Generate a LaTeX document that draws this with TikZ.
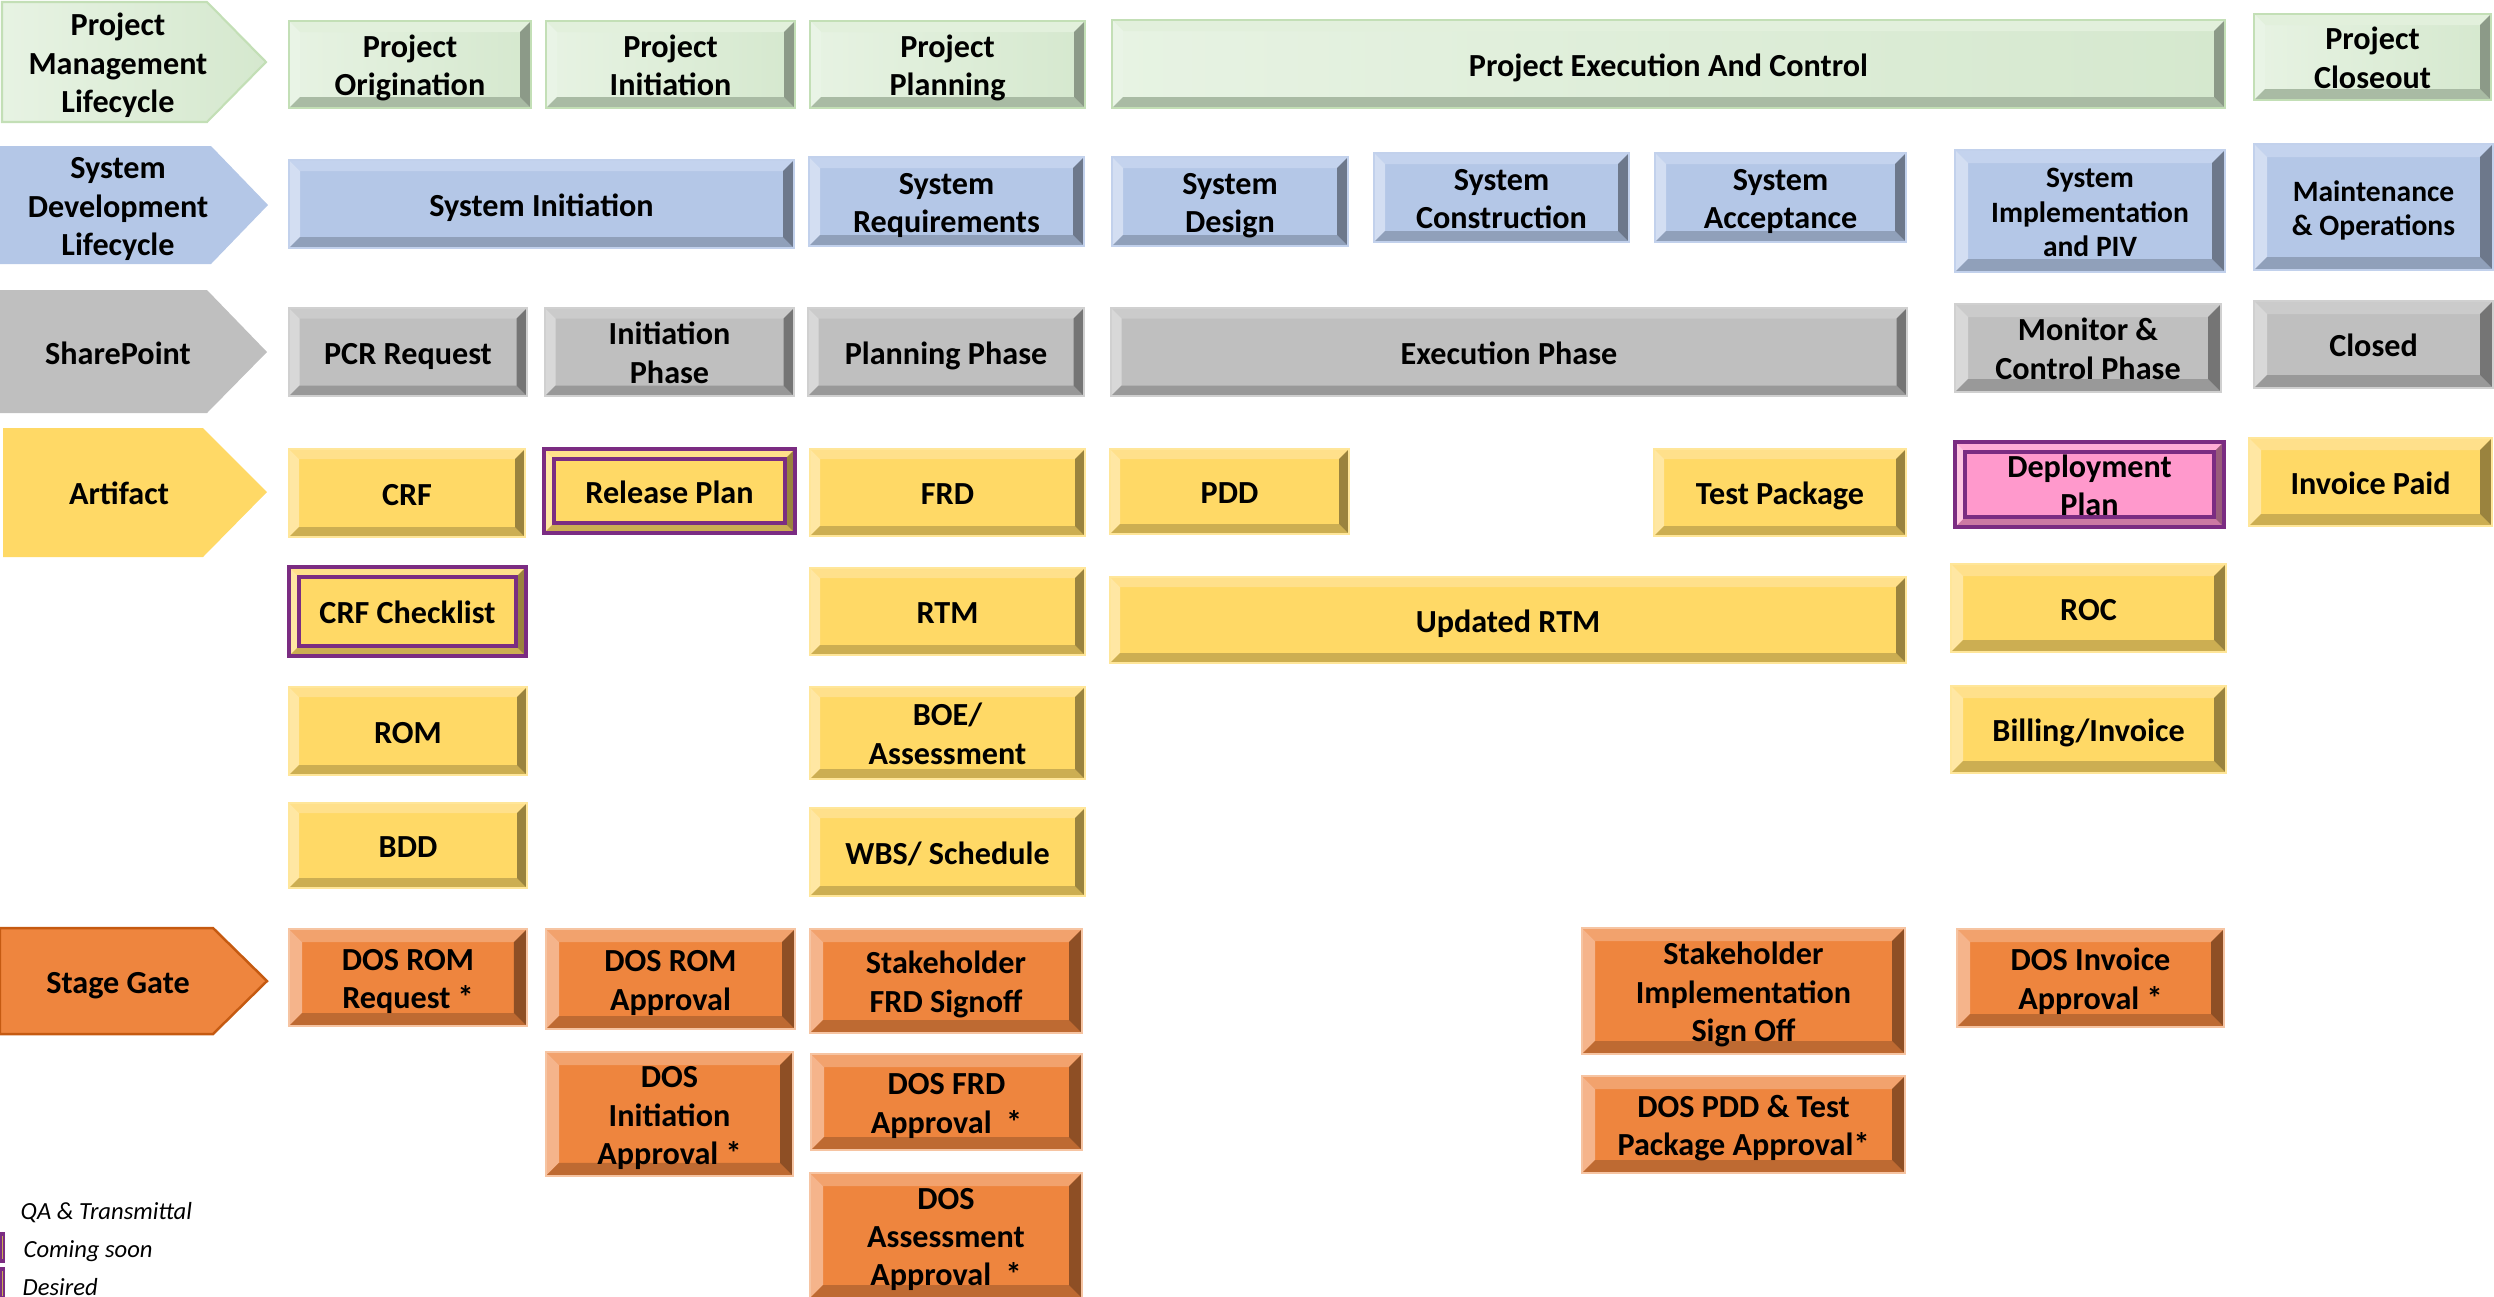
\documentclass[tikz,border=0pt]{standalone}
\usepackage{fontspec}
\setmainfont{Carlito}
\usetikzlibrary{calc}
% green
\definecolor{cGb}{HTML}{D5E8CE}\definecolor{cGl}{HTML}{E7F3E3}\definecolor{cGt}{HTML}{E2F0DC}
\definecolor{cGle}{HTML}{E9F4E6}\definecolor{cGbo}{HTML}{A9BBA4}\definecolor{cGr}{HTML}{8C9A88}
\definecolor{cGline}{HTML}{C3DFB6}
% blue
\definecolor{cBb}{HTML}{B4C7E7}\definecolor{cBt}{HTML}{C4D3EE}\definecolor{cBle}{HTML}{D3DEF2}
\definecolor{cBbo}{HTML}{90A0BA}\definecolor{cBr}{HTML}{6D788B}\definecolor{cBline}{HTML}{C2D1EC}
% gray
\definecolor{cKb}{HTML}{BFBFBF}\definecolor{cKt}{HTML}{CBCBCB}\definecolor{cKle}{HTML}{D8D8D8}
\definecolor{cKbo}{HTML}{999999}\definecolor{cKr}{HTML}{757575}\definecolor{cKline}{HTML}{D0D0D0}
% yellow
\definecolor{cYb}{HTML}{FFD966}\definecolor{cYt}{HTML}{FFE08B}\definecolor{cYle}{HTML}{FFE7A3}
\definecolor{cYbo}{HTML}{CCAE52}\definecolor{cYr}{HTML}{9A833E}\definecolor{cYline}{HTML}{FFE699}
% orange
\definecolor{cOb}{HTML}{EE853E}\definecolor{cOt}{HTML}{F2A26D}\definecolor{cOle}{HTML}{F5B48B}
\definecolor{cObo}{HTML}{BE6A32}\definecolor{cOr}{HTML}{8E4F25}\definecolor{cOline}{HTML}{F6C4A2}
\definecolor{cOedge}{HTML}{C55A11}
% pink
\definecolor{cPb}{HTML}{FF99CC}\definecolor{cPt}{HTML}{FFADD6}\definecolor{cPle}{HTML}{FFC6E2}
\definecolor{cPbo}{HTML}{CC7AA3}\definecolor{cPr}{HTML}{995C7A}
\definecolor{cPurp}{HTML}{7B2C82}

\newcommand\boxfont{\bfseries\fontsize{9.15}{10.9}\selectfont}
\newcommand\smallboxfont{\bfseries\fontsize{8.4}{9.8}\selectfont}
\newcommand\legfont{\itshape\fontsize{7}{8}\selectfont}
\newcommand\tb[1]{\raisebox{0pt}[\dimexpr\height+2.5pt\relax][\depth]{\begin{tabular}{@{}c@{}}#1\end{tabular}}}
\def\bvw{0.11cm}

\newcommand\bevpic[5]{%
\fill[#1] (path picture bounding box.north west) -- (path picture bounding box.north east) -- ([xshift=-#5,yshift=-#5]path picture bounding box.north east) -- ([xshift=#5,yshift=-#5]path picture bounding box.north west) -- cycle;
\fill[#2] (path picture bounding box.north west) -- ([xshift=#5,yshift=-#5]path picture bounding box.north west) -- ([xshift=#5,yshift=#5]path picture bounding box.south west) -- (path picture bounding box.south west) -- cycle;
\fill[#3] (path picture bounding box.south west) -- ([xshift=#5,yshift=#5]path picture bounding box.south west) -- ([xshift=-#5,yshift=#5]path picture bounding box.south east) -- (path picture bounding box.south east) -- cycle;
\fill[#4] (path picture bounding box.north east) -- ([xshift=-#5,yshift=-#5]path picture bounding box.north east) -- ([xshift=-#5,yshift=#5]path picture bounding box.south east) -- (path picture bounding box.south east) -- cycle;
}
\newcommand\bevpicP[5]{\bevpic{#1}{#2}{#3}{#4}{#5}%
\draw[cPurp,line width=1pt] ([xshift=#5,yshift=-#5]path picture bounding box.north west) rectangle ([xshift=-#5,yshift=#5]path picture bounding box.south east);}

\tikzset{
 bw/.code={\def\bvw{#1}},
 base/.style={rectangle, inner sep=0pt, outer sep=0pt, align=center, text=black, font=\boxfont, line width=0.6pt},
 gbox/.style={base, bw=0.11cm, left color=cGl, right color=cGb, draw=cGline, path picture={\bevpic{cGt}{cGle}{cGbo}{cGr}{\bvw}}},
 bbox/.style={base, bw=0.11cm, fill=cBb, draw=cBline, path picture={\bevpic{cBt}{cBle}{cBbo}{cBr}{\bvw}}},
 kbox/.style={base, bw=0.105cm, fill=cKb, draw=cKline, path picture={\bevpic{cKt}{cKle}{cKbo}{cKr}{\bvw}}},
 ybox/.style={base, bw=0.10cm, fill=cYb, draw=cYline, path picture={\bevpic{cYt}{cYle}{cYbo}{cYr}{\bvw}}},
 ypbox/.style={base, bw=0.10cm, fill=cYb, draw=cPurp, line width=1.1pt, path picture={\bevpicP{cYt}{cYle}{cYbo}{cYr}{\bvw}}},
 pkbox/.style={base, bw=0.10cm, fill=cPb, draw=cPurp, line width=1.1pt, path picture={\bevpicP{cPt}{cPle}{cPbo}{cPr}{\bvw}}},
 obox/.style={base, bw=0.13cm, fill=cOb, draw=cOline, path picture={\bevpic{cOt}{cOle}{cObo}{cOr}{\bvw}}},
 arrlab/.style={align=center, text=black, font=\boxfont, inner sep=0pt},
 leg/.style={font=\legfont, text=black, inner sep=0pt, anchor=base west},
}
\newcommand\bx[7]{\node[#1, minimum width={(#5-#3)*0.01cm}, minimum height={(#6-#4)*0.01cm}] (#2) at ({(#3+#5)/2},{(#4+#6)/2}) {\tb{#7}};}

\begin{document}
\begin{tikzpicture}[x=0.01cm, y=-0.01cm]
\useasboundingbox (0,0) rectangle (2494,1296);
\clip (0,0) rectangle (2494,1296);

% ---- row headers (pentagon arrows)
\shade[left color=cGl, right color=cGb, draw=cGline, line width=0.6pt]
  (2,2) -- (207,2) -- (266,62) -- (207,122) -- (2,122) -- cycle;
\node[arrlab] (hpm) at (118,62) {\tb{Project\\Management\\Lifecycle}};
\fill[cBb] (0,146) -- (211,146) -- (268,205) -- (211,264) -- (0,264) -- cycle;
\node[arrlab] (hsd) at (118,205) {\tb{System\\Development\\Lifecycle}};
\fill[cKb] (0,290) -- (207,290) -- (267,352) -- (207,413) -- (0,413) -- cycle;
\node[arrlab] (hsp) at (118,352) {\tb{SharePoint}};
\fill[cYb] (3,428) -- (203,428) -- (267,492) -- (203,557) -- (3,557) -- cycle;
\node[arrlab] (har) at (119,492) {\tb{Artifact}};
\filldraw[fill=cOb, draw=cOedge, line width=0.7pt] (0,928) -- (213,928) -- (267,981) -- (213,1034) -- (0,1034) -- cycle;
\node[arrlab] (hsg) at (118,981) {\tb{Stage Gate}};

% ---- Project management lifecycle
\bx{gbox}{po}{289}{21}{531}{108}{Project\\Origination}
\bx{gbox}{pi}{546}{21}{795}{108}{Project\\Initiation}
\bx{gbox}{pp}{810}{21}{1085}{108}{Project\\Planning}
\bx{gbox}{pec}{1112}{20}{2225}{108}{Project Execution And Control}
\bx{gbox}{pcl}{2254}{14}{2491}{100}{Project\\Closeout}

% ---- SDLC
\bx{bbox}{si}{289}{160}{794}{248}{System Initiation}
\bx{bbox}{sr}{809}{157}{1084}{246}{System\\Requirements}
\bx{bbox}{sd}{1112}{157}{1348}{246}{System\\Design}
\bx{bbox}{sc}{1374}{153}{1629}{242}{System\\Construction}
\bx{bbox}{sa}{1655}{153}{1906}{242}{System\\Acceptance}
\bx{bbox,bw=0.13cm,font=\smallboxfont}{sip}{1955}{150}{2225}{272}{System\\Implementation\\and PIV}
\bx{bbox,bw=0.13cm,font=\smallboxfont}{mo}{2254}{144}{2493}{270}{Maintenance\\\& Operations}

% ---- SharePoint
\bx{kbox}{pcr}{289}{308}{527}{396}{PCR Request}
\bx{kbox}{ip}{545}{308}{794}{396}{Initiation\\Phase}
\bx{kbox}{plp}{808}{308}{1084}{396}{Planning Phase}
\bx{kbox}{ep}{1111}{308}{1907}{396}{Execution Phase}
\bx{kbox,bw=0.13cm}{mc}{1955}{304}{2221}{392}{Monitor \&\\Control Phase}
\bx{kbox,bw=0.13cm}{cl}{2254}{301}{2493}{388}{Closed}

% ---- Artifacts
\bx{ybox}{crf}{289}{449}{525}{537}{CRF}
\bx{ypbox}{rp}{544}{449}{795}{533}{Release Plan}
\bx{ybox}{frd}{810}{449}{1085}{536}{FRD}
\bx{ybox}{pdd}{1110}{449}{1349}{534}{PDD}
\bx{ybox}{tp}{1654}{449}{1906}{536}{Test Package}
\bx{pkbox}{dp}{1955}{443}{2224}{526}{Deployment\\Plan}
\bx{ybox,bw=0.12cm}{inv}{2249}{438}{2492}{526}{Invoice Paid}
\bx{ypbox}{crfc}{289}{567}{526}{656}{CRF Checklist}
\bx{ybox}{rtm}{810}{568}{1085}{655}{RTM}
\bx{ybox}{urtm}{1110}{577}{1906}{663}{Updated RTM}
\bx{ybox,bw=0.12cm}{roc}{1951}{564}{2226}{652}{ROC}
\bx{ybox}{rom}{289}{687}{527}{775}{ROM}
\bx{ybox}{boe}{810}{687}{1085}{779}{BOE/\\Assessment}
\bx{ybox,bw=0.12cm}{bill}{1951}{686}{2226}{773}{Billing/Invoice}
\bx{ybox}{bdd}{289}{803}{527}{888}{BDD}
\bx{ybox}{wbs}{810}{808}{1085}{896}{WBS/ Schedule}

% ---- Stage gates
\bx{obox}{drr}{289}{929}{527}{1026}{DOS ROM\\Request *}
\bx{obox}{dra}{546}{929}{795}{1029}{DOS ROM\\Approval}
\bx{obox}{sfs}{810}{929}{1082}{1033}{Stakeholder\\FRD Signoff}
\bx{obox}{sis}{1582}{928}{1905}{1054}{Stakeholder\\Implementation\\Sign Off}
\bx{obox}{dia}{1957}{929}{2224}{1027}{DOS Invoice\\Approval *}
\bx{obox}{dina}{546}{1053}{793}{1175}{DOS\\Initiation\\Approval *}
\bx{obox}{dfa}{811}{1054}{1082}{1150}{DOS FRD\\Approval\ \ *}
\bx{obox}{dpt}{1582}{1076}{1905}{1173}{DOS PDD \& Test\\Package Approval*}
\bx{obox}{daa}{810}{1173}{1082}{1298}{DOS\\Assessment\\Approval\ \ *}

% ---- legend
\fill[cPurp] (0,1232) rectangle (5,1263);
\fill[cPurp] (0,1267) rectangle (5,1298);
\draw[cYbo, line width=0.3pt] (2.5,1236) -- (2.5,1259) (2.5,1271) -- (2.5,1296);
\node[leg] (lg1) at (20,1219) {QA \& Transmittal};
\node[leg] (lg2) at (23,1257) {Coming soon};
\node[leg] (lg3) at (22,1295) {Desired};
\end{tikzpicture}
\end{document}
